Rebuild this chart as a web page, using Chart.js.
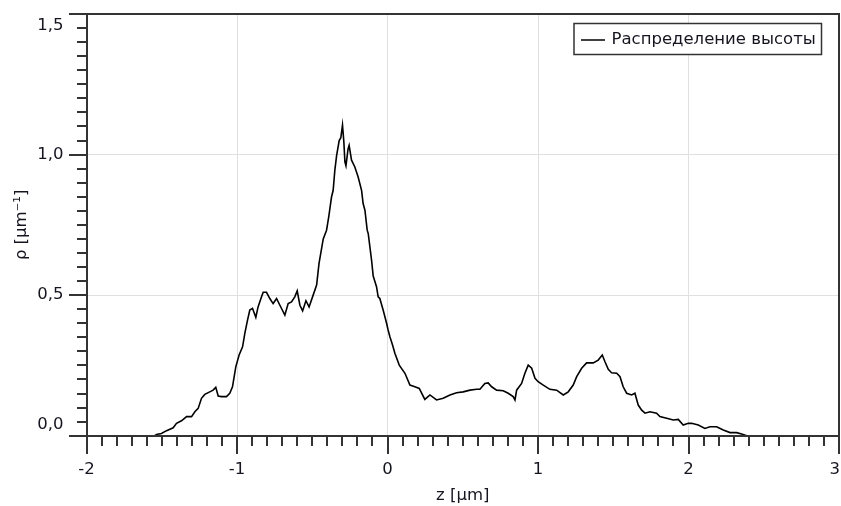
<!DOCTYPE html>
<html><head><meta charset="utf-8">
<script src="https://cdn.jsdelivr.net/npm/chart.js@4.4.0/dist/chart.umd.min.js"></script>
<style>html,body{margin:0;padding:0;background:#fff}#wrap{width:841px;height:506px;position:relative}</style>
</head><body><div id="wrap"><canvas id="c" width="841" height="506"></canvas></div>
<script>
const seriesName = 'Распределение высоты';
const xTitle = 'z [µm]';
const yTitle = 'ρ [µm⁻¹]';
const xTickValues = [-2, -1, 0, 1, 2, 3];
const xTickLabels = ['-2', '-1', '0', '1', '2', '3'];
const yTickValues = [0, 0.5, 1.0, 1.5];
const yTickLabels = ['0,0', '0,5', '1,0', '1,5'];

const zValues = [
-1.546,-1.535,-1.502,-1.468,-1.424,-1.402,-1.369,-1.335,-1.302,-1.280,-1.258,-1.236,-1.214,-1.181,-1.159,-1.141,-1.125,-1.103,-1.070,-1.048,
-1.030,-1.008,-0.986,-0.963,-0.948,-0.930,-0.915,-0.897,-0.875,-0.860,-0.837,-0.826,-0.804,-0.782,-0.760,-0.737,-0.715,-0.682,-0.660,-0.638,
-0.616,-0.600,-0.582,-0.564,-0.542,-0.521,-0.494,-0.471,-0.455,-0.427,-0.405,-0.390,-0.372,-0.361,-0.350,-0.338,-0.321,-0.310,-0.299,-0.290,
-0.283,-0.276,-0.262,-0.255,-0.239,-0.217,-0.195,-0.172,-0.162,-0.150,-0.135,-0.128,-0.106,-0.095,-0.073,-0.062,-0.051,-0.029,-0.006,0.004,
0.016,0.034,0.049,0.078,0.116,0.149,0.182,0.211,0.248,0.282,0.326,0.370,0.415,0.459,0.503,0.548,0.592,0.614,0.647,0.669,
0.692,0.725,0.769,0.802,0.835,0.847,0.858,0.891,0.913,0.935,0.958,0.980,1.001,1.035,1.079,1.124,1.168,1.201,1.234,1.257,
1.290,1.323,1.367,1.400,1.427,1.445,1.467,1.489,1.523,1.545,1.566,1.589,1.622,1.644,1.666,1.689,1.711,1.744,1.788,1.810,
1.855,1.899,1.932,1.965,1.998,2.021,2.065,2.109,2.143,2.187,2.231,2.276,2.320,2.353,2.387
];
const rhoValues = [
0.000,0.004,0.008,0.018,0.028,0.044,0.053,0.068,0.068,0.085,0.097,0.133,0.147,0.156,0.162,0.172,0.141,0.139,0.139,0.151,
0.174,0.245,0.287,0.316,0.364,0.411,0.447,0.453,0.421,0.458,0.494,0.510,0.510,0.488,0.470,0.488,0.464,0.429,0.470,0.476,
0.494,0.515,0.464,0.444,0.480,0.458,0.500,0.536,0.613,0.700,0.731,0.780,0.849,0.873,0.944,0.997,1.050,1.060,1.105,1.045,
0.974,0.960,1.020,1.033,0.980,0.956,0.920,0.872,0.826,0.802,0.731,0.719,0.625,0.568,0.530,0.494,0.488,0.447,0.400,0.376,
0.352,0.322,0.293,0.251,0.222,0.180,0.174,0.168,0.129,0.145,0.127,0.133,0.145,0.153,0.156,0.162,0.165,0.165,0.186,0.188,
0.174,0.162,0.160,0.151,0.139,0.127,0.162,0.186,0.222,0.251,0.240,0.204,0.192,0.180,0.165,0.162,0.145,0.156,0.180,0.210,
0.240,0.259,0.259,0.269,0.287,0.263,0.236,0.224,0.222,0.210,0.174,0.151,0.145,0.151,0.109,0.091,0.080,0.085,0.080,0.068,
0.062,0.056,0.058,0.038,0.044,0.044,0.038,0.026,0.032,0.032,0.020,0.011,0.011,0.006,0.000
];

const FONT = '"DejaVu Sans", Verdana, sans-serif';
const FSIZE = 16.5;
const AXIS = '#333333';
const TEXT = '#151520';

const framePlugin = {
  id: 'frame',
  afterDraw(chart) {
    const {ctx, chartArea: a, scales: {x, y}} = chart;
    ctx.save();
    ctx.strokeStyle = AXIS;
    ctx.lineWidth = 2;
    ctx.lineCap = 'butt';
    const L = Math.round(a.left), R = Math.round(a.right), T = Math.round(a.top), B = Math.round(a.bottom);
    ctx.beginPath();
    ctx.rect(L, T, R - L, B - T);
    for (let i = 0; i <= 50; i++) {
      const v = -2 + i * 0.1;
      const px = Math.round(x.getPixelForValue(v));
      const len = (i % 10 === 0) ? 18 : 10;
      ctx.moveTo(px, B); ctx.lineTo(px, B + len);
    }
    for (let i = 0; i <= 30; i++) {
      const v = i * 0.05;
      const py = Math.round(y.getPixelForValue(v));
      const len = (i % 10 === 0) ? 18 : 10;
      ctx.moveTo(L, py); ctx.lineTo(L - len, py);
    }
    ctx.stroke();

    ctx.fillStyle = TEXT;
    ctx.font = FSIZE + 'px ' + FONT;
    ctx.textBaseline = 'middle';
    ctx.textAlign = 'right';
    yTickValues.forEach((v, i) => {
      let py = y.getPixelForValue(v);
      py = Math.min(Math.max(py, a.top + 12), a.bottom - 11);
      ctx.fillText(yTickLabels[i], 63.5, py);
    });
    ctx.textAlign = 'center';
    xTickValues.forEach((v, i) => {
      let px = x.getPixelForValue(v);
      const w = ctx.measureText(xTickLabels[i]).width;
      px = Math.min(px, chart.width - w / 2 - 1);
      ctx.fillText(xTickLabels[i], px, 470);
    });

    const bx = 574, by = 23.5, bw = 247.5, bh = 31;
    ctx.fillStyle = '#fff';
    ctx.fillRect(bx, by, bw, bh);
    ctx.lineWidth = 1.5;
    ctx.strokeStyle = AXIS;
    ctx.strokeRect(bx, by, bw, bh);
    ctx.strokeStyle = '#000';
    ctx.lineWidth = 1.5;
    ctx.beginPath();
    ctx.moveTo(581, 40); ctx.lineTo(605, 40);
    ctx.stroke();
    ctx.fillStyle = TEXT;
    ctx.textAlign = 'left';
    ctx.fillText(seriesName, 611.5, 40);
    ctx.restore();
  }
};

new Chart(document.getElementById('c'), {
  type: 'line',
  data: {
    datasets: [{
      label: seriesName,
      data: zValues.map((z, i) => ({x: z, y: rhoValues[i]})),
      borderColor: '#000',
      borderWidth: 1.6,
      pointRadius: 0,
      tension: 0,
      fill: false
    }]
  },
  options: {
    responsive: false,
    animation: false,
    devicePixelRatio: 1,
    layout: {padding: {top: 14, right: 2, left: 0, bottom: 0}},
    plugins: {legend: {display: false}, tooltip: {enabled: false}},
    scales: {
      x: {
        type: 'linear', min: -2, max: 3,
        ticks: {stepSize: 1, display: false},
        grid: {color: '#e0e0e0', lineWidth: 1, drawTicks: false},
        border: {display: false},
        title: {display: true, text: xTitle, color: TEXT, font: {family: FONT, size: FSIZE}, padding: {top: 0, bottom: 0}},
        afterFit(s) { s.height = 70.3; }
      },
      y: {
        type: 'linear', min: 0, max: 1.5,
        ticks: {stepSize: 0.5, display: false},
        grid: {color: '#e0e0e0', lineWidth: 1, drawTicks: false},
        border: {display: false},
        title: {display: true, text: yTitle, color: TEXT, font: {family: FONT, size: FSIZE}, padding: {top: 12, bottom: 0}},
        afterFit(s) { s.width = 86.5; }
      }
    }
  },
  plugins: [framePlugin]
});
</script>
</body></html>
